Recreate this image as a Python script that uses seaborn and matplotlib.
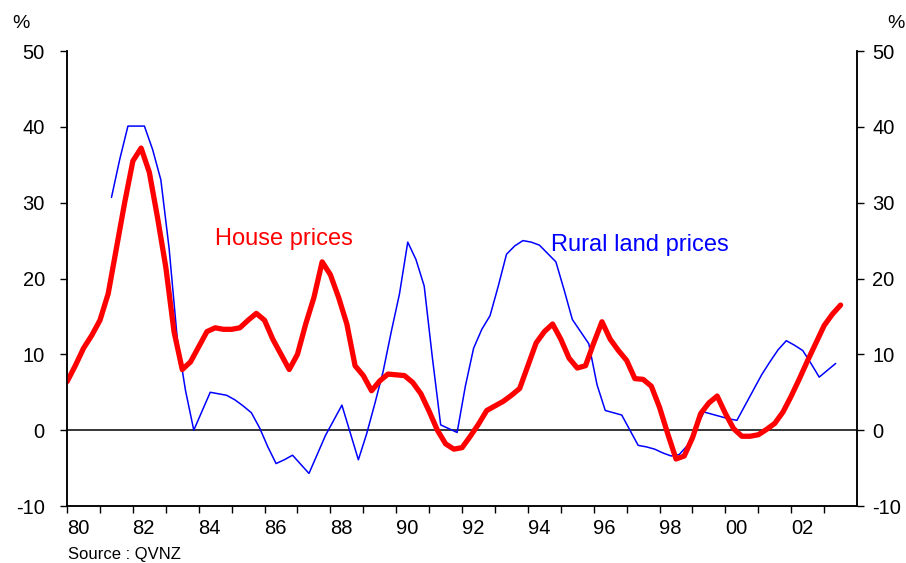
import numpy as np
import pandas as pd
import seaborn as sns
import matplotlib.pyplot as plt

# House prices, annual % change, quarterly from 1980 Q1
house_start = 1980.0
house = [6.4, 8.5, 10.8, 12.5,
         14.5, 18.0, 24.0, 30.0,
         35.5, 37.2, 34.0, 28.0,
         21.5, 13.0, 8.0, 9.0,
         11.0, 13.0, 13.5, 13.3,
         13.3, 13.5, 14.5, 15.4,
         14.5, 12.0, 10.0, 8.0,
         10.0, 14.0, 17.5, 22.2,
         20.5, 17.5, 14.0, 8.5,
         7.2, 5.2, 6.5, 7.4,
         7.3, 7.2, 6.3, 4.8,
         2.5, 0.0, -1.8, -2.5,
         -2.3, -0.8, 0.8, 2.6,
         3.2, 3.8, 4.6, 5.5,
         8.5, 11.5, 13.0, 14.0,
         12.0, 9.5, 8.2, 8.5,
         11.5, 14.3, 12.0, 10.5,
         9.2, 6.8, 6.7, 5.8,
         3.0, -0.5, -3.8, -3.4,
         -1.0, 2.2, 3.6, 4.5,
         2.2, 0.2, -0.8, -0.8,
         -0.6, 0.1, 0.9, 2.4,
         4.5, 6.8, 9.2, 11.5,
         13.8, 15.3, 16.5]

# Rural land prices, annual % change, quarterly
rural_start = 1981.35
rural = [30.7, 35.7, 40.1,
         40.1, 40.1, 37.0, 33.0,
         24.0, 12.0, 5.2, 0.0,
         2.5, 5.0, 4.8, 4.6,
         4.0, 3.2, 2.3, 0.3,
         -2.2, -4.4, -3.9, -3.3,
         -4.5, -5.7, -3.2, -0.7,
         1.3, 3.3, -0.3, -3.9,
         -0.5, 3.5, 7.7, 13.0,
         18.0, 24.8, 22.5, 19.0,
         9.5, 0.7, 0.2, -0.3,
         5.8, 10.8, 13.3, 15.1,
         19.0, 23.2, 24.3, 25.0,
         24.8, 24.4, 23.3, 22.2,
         18.5, 14.6, 13.0, 11.4,
         6.0, 2.6, 2.3, 2.0,
         0.0, -2.0, -2.2, -2.5,
         -3.0, -3.4, -3.2, -2.0,
         0.2, 2.4, 2.1, 1.8,
         1.5, 1.3, 3.3, 5.3,
         7.3, 9.0, 10.6, 11.8,
         11.2, 10.5, 8.8, 7.0,
         7.9, 8.8]

year_labels = ['80', '82', '84', '86', '88', '90', '92', '94', '96', '98', '00', '02']
y_ticks = [-10, 0, 10, 20, 30, 40, 50]

house_df = pd.DataFrame({'date': house_start + 0.25 * np.arange(len(house)), 'pct': house})
rural_df = pd.DataFrame({'date': rural_start + 0.25 * np.arange(len(rural)), 'pct': rural})

sns.set_style('white')
plt.rcParams['font.family'] = ['Liberation Sans', 'DejaVu Sans']
plt.rcParams['axes.unicode_minus'] = False
plt.rcParams['text.color'] = 'black'
plt.rcParams['xtick.color'] = 'black'
plt.rcParams['ytick.color'] = 'black'

fig = plt.figure(figsize=(9.06, 5.63), dpi=100)
ax = fig.add_axes([0.074, 0.1012, 0.872, 0.8082])

ax.axhline(0, color='black', lw=1.1, zorder=1)
sns.lineplot(data=rural_df, x='date', y='pct', ax=ax, color='#0000FF', lw=1.1, zorder=3)
sns.lineplot(data=house_df, x='date', y='pct', ax=ax, color='#FF0000', lw=3.8, zorder=4)

ax.set_xlim(1980, 2004)
ax.set_ylim(-10, 50)
ax.set_xlabel('')
ax.set_ylabel('')

# ticks every year, labels every second year set a little right of the tick
ax.set_xticks(np.arange(1980, 2004), labels=[])
ax.set_xticks([1980 + 2 * i + 0.33 for i in range(len(year_labels))], labels=year_labels, minor=True)
ax.tick_params(axis='x', which='major', direction='out', length=5, width=1, bottom=True)
ax.tick_params(axis='x', which='minor', length=0, pad=9, labelsize=14.5)

ax.set_yticks(y_ticks)
ax.tick_params(axis='y', direction='out', length=5, width=1, left=True, pad=11, labelsize=14.5)

ax2 = ax.twinx()
ax2.set_ylim(-10, 50)
ax2.set_yticks(y_ticks)
ax2.tick_params(axis='y', direction='out', length=5, width=1, right=True, pad=6, labelsize=14.5)

for a in (ax, ax2):
    a.spines['top'].set_visible(False)
    for s in ('left', 'right', 'bottom'):
        a.spines[s].set_color('black')
        a.spines[s].set_linewidth(1.1)
    a.grid(False)

ax.text(1984.5, 25.2, 'House prices', color='#FF0000', fontsize=17, va='center', ha='left')
ax.text(1994.7, 24.4, 'Rural land prices', color='#0000FF', fontsize=17, va='center', ha='left')

fig.text(21 / 906, 1 - 24 / 563, '%', fontsize=14, ha='center', va='center')
fig.text(896 / 906, 1 - 24 / 563, '%', fontsize=14, ha='center', va='center')
fig.text(68 / 906, 1 - 555 / 563, 'Source : QVNZ', fontsize=12, ha='left', va='center')

fig.savefig('out.png', dpi=100)
